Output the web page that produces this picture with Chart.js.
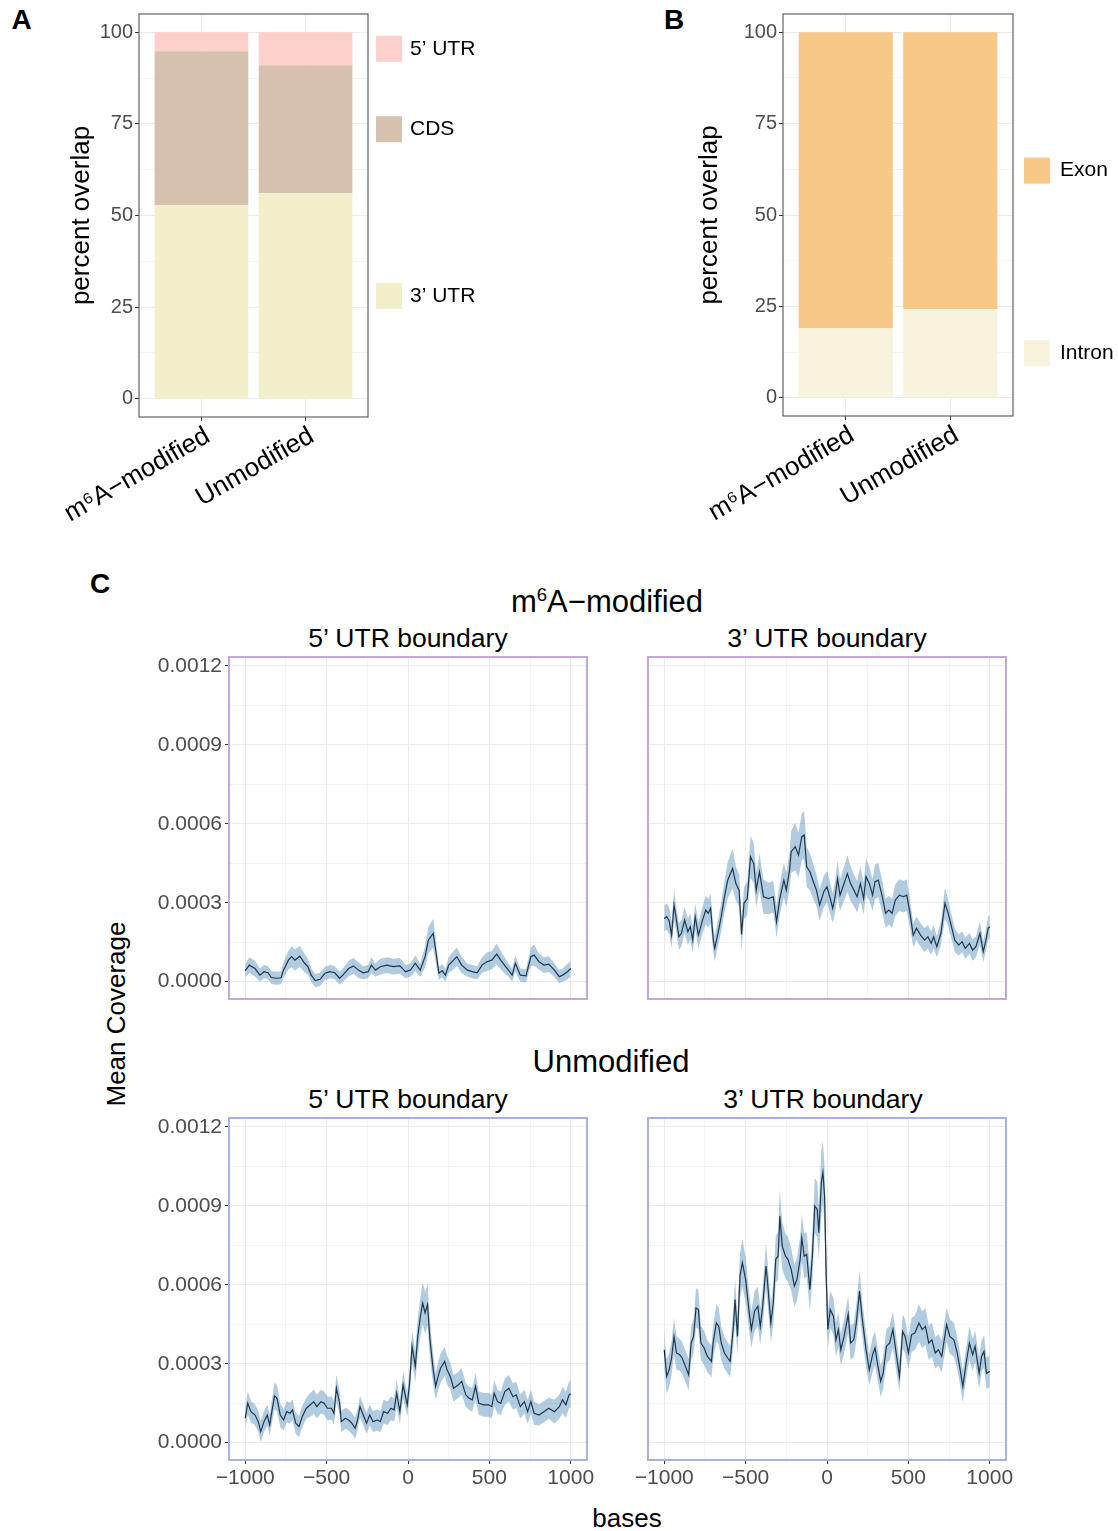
<!DOCTYPE html>
<html>
<head>
<meta charset="utf-8">
<script src="https://cdn.jsdelivr.net/npm/chart.js@4.4.1/dist/chart.umd.min.js"></script>
<style>
  body { margin: 0; background: #fff; width: 1118px; height: 1531px; position: relative; overflow: hidden;
         font-family: "Liberation Sans", Arial, sans-serif; }
  canvas { position: absolute; }
  .txt { position: absolute; white-space: nowrap; line-height: 1; color: #000; transform: translate(-50%, -50%); }
  .tag { font-weight: bold; font-size: 28px; }
  sup { font-size: 0.6em; vertical-align: 0.55em; line-height: 0; }
</style>
</head>
<body>

<div class="txt tag" style="left:21.5px;top:19.5px">A</div>
<div class="txt tag" style="left:674px;top:19.5px">B</div>
<div class="txt tag" style="left:100px;top:583.5px">C</div>

<div class="txt" style="left:607px;top:601px;font-size:31px">m<sup>6</sup>A&minus;modified</div>
<div class="txt" style="left:611px;top:1061px;font-size:31px">Unmodified</div>
<div class="txt" style="left:408px;top:638px;font-size:26.5px">5’ UTR boundary</div>
<div class="txt" style="left:827px;top:638px;font-size:26.5px">3’ UTR boundary</div>
<div class="txt" style="left:408px;top:1099px;font-size:26.5px">5’ UTR boundary</div>
<div class="txt" style="left:823px;top:1099px;font-size:26.5px">3’ UTR boundary</div>
<div class="txt" style="left:116px;top:1014px;font-size:26px;transform:translate(-50%,-50%) rotate(-90deg)">Mean Coverage</div>
<div class="txt" style="left:627px;top:1518px;font-size:26px">bases</div>

<canvas id="barA" width="540" height="540" style="left:-40px;top:0"></canvas>
<canvas id="barB" width="518" height="540" style="left:600px;top:0"></canvas>
<canvas id="covModU5" width="460" height="375" style="left:140px;top:640px"></canvas>
<canvas id="covModU3" width="390" height="375" style="left:630px;top:640px"></canvas>
<canvas id="covUnmU5" width="460" height="410" style="left:140px;top:1100px"></canvas>
<canvas id="covUnmU3" width="390" height="410" style="left:630px;top:1100px"></canvas>

<script>
/* ── Percent overlap of peaks with transcript features ─────────── */
const GROUPS = ["m\u2076A\u2212modified", "Unmodified"];
const UTR3_PCT = [52.9, 56.1];
const CDS_PCT = [41.9, 34.9];
const UTR5_PCT = [5.2, 9.0];
const INTRON_PCT = [19.1, 24.3];
const EXON_PCT = [80.9, 75.7];
const PCT_TICKS = [0, 25, 50, 75, 100];

/* ── Coverage around UTR boundaries (mean and s.e., in units of 1e-5) ── */
const COV_UNIT = 1e-5;
const BASE_TICKS = [-1000, -500, 0, 500, 1000];
const COV_TICKS = [0, 0.0003, 0.0006, 0.0009, 0.0012];

const MOD_U5_POS = [
  -1000, -975, -940, -910, -885, -860, -840, -810, -780, -765,
  -735, -715, -695, -665, -635, -615, -595, -570, -540, -510,
  -480, -450, -420, -400, -365, -335, -305, -275, -245, -225,
  -200, -170, -130, -90, -50, -15, 15, 45, 75, 105,
  125, 155, 170, 190, 210, 230, 250, 280, 300, 330,
  365, 395, 425, 455, 485, 515, 545, 570, 600, 620,
  640, 660, 690, 725, 755, 775, 805, 835, 865, 900,
  930, 950, 980, 1000];
const MOD_U5_MEAN = [
  4.2, 6.3, 5, 2.5, 3.8, 3.4, 1.6, 1.3, 1.5, 4.4,
  8.2, 9.5, 8.2, 9.7, 7, 5.7, 2.5, 0.4, 0.9, 3.2,
  3.8, 3.4, 1.3, 2.5, 5, 6, 4.4, 3.4, 3.8, 6.3,
  4.4, 5.7, 6.3, 5.7, 6, 3.8, 4.4, 7, 4.4, 9.5,
  15.8, 18.4, 12, 3.2, 4.2, 2.5, 6.3, 8.2, 9.5, 6.3,
  4.4, 3.8, 3.4, 6.3, 7.6, 8.2, 10.5, 8.2, 5.7, 4.2,
  2.5, 7, 2.5, 2.2, 9.5, 10.1, 7.6, 6.3, 6.7, 4.4,
  1.9, 2.5, 3.8, 5];
const MOD_U5_SE = [
  2.5, 3, 3, 2.5, 2.5, 2.5, 2.5, 2.5, 2.5, 3,
  3.5, 4, 4, 4, 3.5, 3, 2.5, 2.5, 2.5, 2.5,
  2.5, 2.5, 2.5, 2.5, 3, 3, 3, 2.5, 2.5, 3,
  2.5, 3, 3, 3, 3, 2.5, 2.5, 3, 2.5, 4,
  5, 5.5, 4.5, 2.5, 2.5, 2.5, 3, 3.5, 3.5, 3,
  2.5, 2.5, 2.5, 3, 3.5, 3.5, 4, 3.5, 3, 2.5,
  2.5, 3, 2.5, 2.5, 3.5, 4, 3, 3, 3, 2.5,
  2.5, 2.5, 3, 3];

const MOD_U3_POS = [
  -1000, -985, -970, -955, -940, -930, -910, -895, -875, -855,
  -840, -825, -810, -790, -765, -745, -730, -715, -700, -690,
  -670, -650, -630, -610, -580, -560, -540, -525, -510, -490,
  -470, -450, -435, -415, -390, -360, -330, -310, -290, -265,
  -250, -230, -220, -195, -175, -155, -140, -125, -105, -80,
  -65, -45, -20, 0, 20, 35, 50, 65, 80, 105,
  125, 145, 165, 185, 205, 225, 240, 260, 280, 295,
  315, 340, 360, 380, 400, 420, 445, 470, 490, 510,
  530, 550, 575, 600, 620, 640, 655, 675, 700, 725,
  745, 765, 785, 810, 830, 850, 875, 895, 915, 940,
  960, 975, 990, 1000];
const MOD_U3_MEAN = [
  24, 24.7, 23.2, 17.7, 29.1, 25.3, 17.1, 18.4, 23.4, 19,
  20.9, 15.8, 24.7, 17.7, 23.4, 27.2, 26, 27.9, 16.5, 12.7,
  18.4, 24.7, 32.3, 38.6, 43, 37.3, 34.8, 18, 29.8, 31.6,
  47.5, 44.9, 34.8, 41.8, 32.3, 31.6, 32.3, 22.8, 31.6, 38.6,
  34.8, 42.4, 49.4, 51.3, 48.1, 55.1, 55.7, 43.7, 41.8, 37.3,
  34.8, 29.1, 34.2, 36.1, 31.6, 27.9, 32.3, 39.2, 32.9, 37.3,
  41.1, 37.3, 34.8, 32.3, 37.3, 31.6, 39.9, 37.3, 32.9, 38,
  38.6, 32.3, 26, 27.2, 26, 31, 32.9, 32.3, 32.9, 26,
  17.7, 20.3, 17.7, 15.8, 17.1, 14.6, 17.1, 13.3, 18.4, 29.8,
  26, 20.9, 15.8, 13.9, 15.2, 12.7, 14.6, 12, 13.3, 18.4,
  11.4, 15.2, 20.3, 20.9];
const MOD_U3_SE = [
  5, 5, 5, 5, 6, 5, 5, 5, 5, 5,
  5, 5, 5, 5, 5, 5.5, 5.5, 5.5, 5, 5,
  5, 5.5, 6, 7, 7.5, 6.5, 6, 6, 6, 6.5,
  8, 7.5, 6.5, 7, 6.5, 6, 6, 6, 6, 6.5,
  6.5, 7, 8, 9, 8.5, 9, 9, 7.5, 7, 6.5,
  6, 6, 6, 6, 6, 5.5, 6, 7, 6, 6.5,
  7, 6.5, 6, 6, 6.5, 6, 7, 6.5, 6, 6.5,
  6.5, 6, 5.5, 5.5, 5.5, 6, 6, 6, 6, 5.5,
  4.5, 4.5, 4.5, 4.5, 4.5, 4.5, 4.5, 4, 4.5, 6,
  5, 4.5, 4.5, 4, 4, 4, 4, 4, 4, 4.5,
  4, 4, 4.5, 4.5];

const UNM_U5_POS = [
  -1000, -985, -965, -940, -920, -905, -885, -865, -850, -835,
  -820, -805, -785, -765, -745, -725, -710, -690, -670, -650,
  -625, -600, -580, -560, -535, -515, -495, -470, -455, -440,
  -420, -410, -385, -365, -345, -325, -310, -295, -275, -255,
  -235, -215, -190, -170, -150, -125, -105, -85, -70, -50,
  -30, -5, 10, 25, 45, 60, 75, 90, 105, 120,
  135, 155, 170, 185, 200, 225, 240, 260, 280, 310,
  330, 355, 375, 395, 415, 435, 465, 495, 515, 530,
  550, 570, 595, 620, 645, 665, 690, 715, 735, 755,
  775, 805, 835, 865, 900, 930, 950, 970, 990, 1000];
const UNM_U5_MEAN = [
  9.3, 15, 11.8, 10.5, 8, 4.2, 8, 10.5, 6.7, 12.5,
  17.8, 16.9, 10.5, 8.6, 11.8, 11.2, 12.5, 7.4, 6.1, 9.9,
  13.1, 14.4, 15.6, 13.7, 15.6, 15, 13.1, 13.1, 11.2, 20.7,
  15, 8, 9.3, 8.6, 7.4, 5.5, 8.6, 13.7, 10.5, 7.4,
  10.5, 8, 8.6, 8, 11.8, 11.2, 13.1, 12.5, 18.8, 11.8,
  22, 14.4, 22.6, 36.6, 29, 40.4, 47.4, 53.1, 49.3, 52.5,
  39.1, 27.7, 21.4, 25.2, 28.3, 30.9, 27.7, 25.2, 20.7, 22,
  23.3, 18.2, 16.9, 16.3, 21.4, 15, 14.4, 14.4, 13.7, 18.8,
  15.6, 15, 19.4, 20.7, 17.5, 18.2, 13.7, 15.6, 11.8, 15.6,
  11.2, 10.5, 11.8, 13.1, 11.8, 13.7, 16.3, 14.4, 18.2, 18.6];
const UNM_U5_SE = [
  4, 4.5, 4, 4, 4, 4, 4, 4, 4, 4.5,
  5, 5, 4.5, 4, 4, 4, 4, 4, 4, 4,
  4, 4.5, 4.5, 4.5, 4.5, 4.5, 4.5, 4.5, 4.5, 5,
  4.5, 4, 4, 4, 4, 4, 4, 4, 4, 4,
  4, 4, 4, 4, 4.5, 4.5, 4.5, 4.5, 5, 4.5,
  5, 4.5, 5, 6, 6, 7, 7.5, 8, 8, 8,
  7, 6, 5, 5.5, 5.5, 5.5, 5.5, 5, 5, 5,
  5, 4.5, 4.5, 4.5, 5, 4.5, 4.5, 4.5, 4.5, 5,
  4.5, 4.5, 5, 5, 5, 5, 4.5, 4.5, 4.5, 4.5,
  4.5, 4, 4, 4, 4.5, 4.5, 5, 5, 5, 5];

const UNM_U3_POS = [
  -1000, -985, -970, -955, -940, -925, -905, -890, -870, -850,
  -835, -820, -805, -790, -775, -755, -735, -710, -700, -680,
  -665, -650, -630, -610, -595, -575, -565, -550, -535, -520,
  -500, -480, -465, -445, -425, -410, -395, -375, -365, -345,
  -330, -315, -300, -290, -275, -255, -240, -220, -200, -185,
  -165, -155, -140, -125, -105, -90, -75, -60, -50, -35,
  -25, -15, -5, 5, 20, 40, 55, 70, 85, 105,
  130, 145, 165, 180, 200, 215, 240, 260, 280, 295,
  310, 330, 345, 365, 385, 405, 425, 445, 465, 480,
  500, 520, 540, 565, 585, 605, 625, 645, 665, 685,
  705, 735, 755, 780, 800, 815, 835, 855, 875, 895,
  910, 935, 950, 965, 980, 1000];
const UNM_U3_MEAN = [
  35.3, 25.2, 27.7, 32.2, 40.4, 34.1, 33.4, 32.2, 29, 25.8,
  37.9, 40.4, 51.2, 50.6, 37.9, 36, 32.8, 30.9, 37.9, 45.5,
  44.2, 37.9, 34.1, 32.2, 30.9, 44.2, 54.4, 40.4, 63.3, 68.4,
  62, 50.6, 43, 50, 51.9, 44.2, 51.9, 67.1, 60.8, 45.5,
  53.1, 69.7, 70.9, 86.2, 74.7, 70.9, 69.7, 65.8, 59.5, 62,
  69.7, 77.9, 70.9, 71.6, 58.2, 70.9, 90, 88.7, 79.8, 98.9,
  102.7, 93.8, 63.3, 43, 50.6, 48, 39.1, 43, 35.3, 40.4,
  48.7, 37.9, 39.1, 45.5, 57.6, 48, 35.3, 27.7, 33.4, 36,
  30.2, 23.3, 26.4, 36.6, 37.9, 43, 34.1, 25.2, 42.3, 40.4,
  34.1, 41.1, 41.7, 45.5, 43, 44.2, 37.9, 39.1, 34.1, 35.3,
  32.8, 44.9, 40.4, 39.1, 34.1, 29, 21.4, 30.2, 37.9, 33.4,
  36.6, 26.4, 32.8, 34.7, 26.4, 27.1];
const UNM_U3_SE = [
  7, 6.5, 6.5, 6.5, 7, 6.5, 6, 6, 6, 6,
  6.5, 6.5, 7.5, 7.5, 6.5, 6.5, 6, 6, 6.5, 7,
  7, 6.5, 6, 6, 6, 7, 8, 7, 8.5, 9,
  8.5, 7.5, 7, 7.5, 7.5, 7, 7.5, 8.5, 8, 7.5,
  8, 9, 9, 10, 9, 8.5, 8.5, 8, 8, 8,
  8.5, 9, 8.5, 8.5, 8, 9, 10.5, 10.5, 10, 12,
  12, 11, 9, 7.5, 7, 7, 6.5, 6.5, 6, 6.5,
  7, 6.5, 6.5, 7, 8, 7, 6.5, 6, 6.5, 6.5,
  6, 6, 6, 6.5, 6.5, 7, 6.5, 6, 6.5, 6.5,
  6, 6.5, 6.5, 7, 7, 7, 6.5, 6.5, 6, 6,
  6, 6.5, 6.5, 6.5, 6, 6, 6, 6, 6.5, 6,
  6, 6, 6, 6, 6, 6];

/* ── Shared styling ─────────────────────────────────────────────── */
const FONT = '"Liberation Sans", Arial, sans-serif';
const GRID = "#EBEBEB";
const TICK = "#333333";
const TICK_TEXT = "#4D4D4D";
const RIBBON = "rgba(70,130,180,0.42)";
Chart.defaults.font.family = FONT;
Chart.defaults.animation = false;

const near = (a, b) => Math.abs(a - b) < 1e-9;
const inList = (v, list) => list.some(m => near(m, v));

/* a linear axis with major ticks from `majors`, minor grid halfway between */
function gridAxis(majors, o) {
  const minors = o.minor === false ? [] : majors.slice(1).map((v, i) => (v + majors[i]) / 2);
  const all = majors.concat(minors).sort((a, b) => a - b);
  return {
    type: "linear", bounds: "data", offset: false,
    min: o.min, max: o.max, stacked: o.stacked,
    afterBuildTicks: s => { s.ticks = all.map(v => ({ value: v })); },
    afterFit: s => { if (s.isHorizontal()) s.height = o.size; else s.width = o.size; },
    border: { display: false },
    title: o.title || { display: false },
    grid: {
      offset: false,
      color: GRID,
      lineWidth: c => (c.tick && inList(c.tick.value, majors)) ? 1 : 0.6,
      drawTicks: true,
      tickLength: 4,
      tickWidth: 1,
      tickColor: c => (o.marks && c.tick && inList(c.tick.value, majors)) ? TICK : "rgba(0,0,0,0)"
    },
    ticks: {
      display: !!o.labels, autoSkip: false, maxRotation: 0,
      padding: o.pad == null ? 2 : o.pad,
      color: TICK_TEXT,
      font: { size: o.fontSize || 20 },
      callback: v => inList(v, majors) ? o.fmt(v) : ""
    }
  };
}

const framePlugin = {
  id: "frame",
  afterDraw(chart, args, o) {
    const { ctx, chartArea: a } = chart;
    ctx.save();
    ctx.strokeStyle = o.color;
    ctx.lineWidth = o.width;
    ctx.strokeRect(a.left, a.top, a.right - a.left, a.bottom - a.top);
    ctx.restore();
  }
};

/* keys placed beside the segment midpoints of the last bar */
const barKeyPlugin = {
  id: "barKey",
  afterDraw(chart, args, o) {
    const { ctx, chartArea, scales } = chart;
    let base = 0;
    ctx.save();
    chart.data.datasets.forEach(ds => {
      const v = ds.data[ds.data.length - 1].y;
      const y = scales.y.getPixelForValue(base + v / 2);
      base += v;
      const x = chartArea.right + o.gap;
      ctx.fillStyle = ds.backgroundColor;
      ctx.fillRect(x, y - o.size / 2, o.size, o.size);
      ctx.fillStyle = "#000";
      ctx.font = "21px " + FONT;
      ctx.textBaseline = "middle";
      ctx.textAlign = "left";
      ctx.fillText(ds.label, x + o.size + o.textGap, y);
    });
    ctx.restore();
  }
};

/* group names set at 30°, right end hanging from each tick */
const slantLabelsPlugin = {
  id: "slantLabels",
  afterDraw(chart, args, o) {
    const { ctx, chartArea, scales: { x } } = chart;
    ctx.save();
    ctx.font = o.size + "px " + FONT;
    ctx.fillStyle = "#000";
    ctx.textAlign = "right";
    ctx.textBaseline = "top";
    x.ticks.forEach(t => {
      ctx.save();
      ctx.translate(x.getPixelForValue(t.value), chartArea.bottom + o.offset);
      ctx.rotate(-Math.PI / 6);
      ctx.fillText(GROUPS[Math.round(t.value) - 1], 0, 0);
      ctx.restore();
    });
    ctx.restore();
  }
};

function stackedBars(id, series, lay) {
  new Chart(document.getElementById(id), {
    type: "bar",
    data: {
      datasets: series.map(s => ({
        label: s.label,
        data: GROUPS.map((g, i) => ({ x: i + 1, y: s.values[i] })),
        backgroundColor: s.color,
        borderWidth: 0,
        barPercentage: 0.9,
        categoryPercentage: 1
      }))
    },
    options: {
      responsive: false,
      layout: { autoPadding: false, padding: { left: 0, top: 14, right: lay.right, bottom: 0 } },
      plugins: {
        legend: { display: false }, tooltip: { enabled: false },
        frame: { color: "#555555", width: 1.1 },
        barKey: lay.key,
        slantLabels: { size: 26, offset: 6 }
      },
      scales: {
        x: gridAxis([1, 2], {
          min: 0.4, max: 2.6, size: lay.xSize, minor: false, stacked: true,
          labels: false, marks: true, fmt: v => ""
        }),
        y: gridAxis(PCT_TICKS, {
          min: -5, max: 105, size: lay.ySize, stacked: true,
          labels: true, marks: true, pad: 2, fmt: v => String(v),
          title: { display: true, text: "percent overlap", color: "#000",
                   font: { size: 26 }, padding: { top: lay.titlePad, bottom: 0 } }
        })
      }
    },
    plugins: [framePlugin, barKeyPlugin, slantLabelsPlugin]
  });
}

stackedBars("barA", [
  { label: "3’ UTR", values: UTR3_PCT, color: "#F3EFCB" },
  { label: "CDS", values: CDS_PCT, color: "#D6C1AE" },
  { label: "5’ UTR", values: UTR5_PCT, color: "#FDD0CB" }
], { right: 132, xSize: 123, ySize: 179, titlePad: 106, key: { gap: 8, size: 26, textGap: 8 } });

stackedBars("barB", [
  { label: "Intron", values: INTRON_PCT, color: "#F8F3DD" },
  { label: "Exon", values: EXON_PCT, color: "#F7C886" }
], { right: 105, xSize: 124, ySize: 183, titlePad: 94, key: { gap: 11, size: 26, textGap: 10 } });

/* tick labels need room beyond the panel edge, so each canvas keeps
   at least ~18px of margin around its plotting area */
function coverage(id, pos, mean, se, lay) {
  const pts = f => pos.map((x, i) => ({ x, y: f(i) * COV_UNIT }));
  const clear = "rgba(0,0,0,0)";
  new Chart(document.getElementById(id), {
    type: "line",
    data: {
      datasets: [
        { data: pts(i => mean[i] - se[i]), borderColor: clear, pointRadius: 0, fill: false },
        { data: pts(i => mean[i] + se[i]), borderColor: clear, pointRadius: 0, fill: "-1", backgroundColor: RIBBON },
        { data: pts(i => mean[i]), borderColor: "#000", borderWidth: 1.2, pointRadius: 0, fill: false }
      ]
    },
    options: {
      responsive: false,
      layout: { autoPadding: false, padding: { left: 0, top: lay.top, right: lay.right, bottom: 0 } },
      elements: { line: { tension: 0 } },
      plugins: {
        legend: { display: false }, tooltip: { enabled: false },
        frame: { color: lay.frame, width: 2 }
      },
      scales: {
        x: gridAxis(BASE_TICKS, {
          min: -1100, max: 1100, size: lay.xSize,
          labels: lay.xLabels, marks: lay.xLabels, pad: 2, fontSize: 21,
          fmt: v => (v < 0 ? "\u2212" + Math.abs(v) : String(v))
        }),
        y: gridAxis(COV_TICKS, {
          min: -0.0000658, max: 0.0012342, size: lay.ySize,
          labels: lay.yLabels, marks: lay.yLabels, pad: 3, fontSize: 21,
          fmt: v => v.toFixed(4)
        })
      }
    },
    plugins: [framePlugin]
  });
}

const MOD_FRAME = "#C4A8D8";
const UNM_FRAME = "#A9B1DC";
coverage("covModU5", MOD_U5_POS, MOD_U5_MEAN, MOD_U5_SE,
  { top: 17, right: 13, xSize: 16, ySize: 89, xLabels: false, yLabels: true, frame: MOD_FRAME });
coverage("covModU3", MOD_U3_POS, MOD_U3_MEAN, MOD_U3_SE,
  { top: 17, right: 14, xSize: 16, ySize: 18, xLabels: false, yLabels: false, frame: MOD_FRAME });
coverage("covUnmU5", UNM_U5_POS, UNM_U5_MEAN, UNM_U5_SE,
  { top: 18, right: 13, xSize: 50, ySize: 89, xLabels: true, yLabels: true, frame: UNM_FRAME });
coverage("covUnmU3", UNM_U3_POS, UNM_U3_MEAN, UNM_U3_SE,
  { top: 18, right: 14, xSize: 50, ySize: 18, xLabels: true, yLabels: false, frame: UNM_FRAME });
</script>
</body>
</html>
